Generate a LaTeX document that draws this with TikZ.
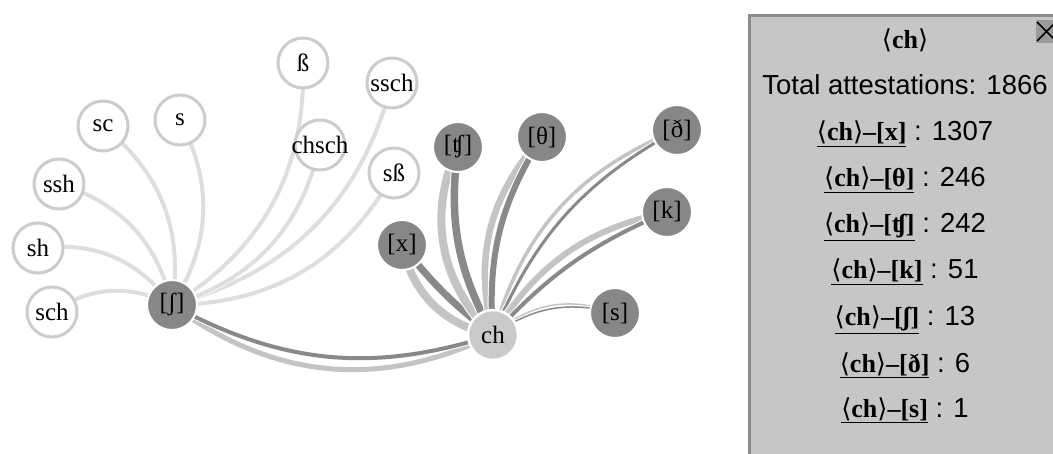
\documentclass[tikz,border=0pt]{standalone}
\usepackage{fontspec}
\setmainfont{Liberation Serif}
\setsansfont{Liberation Sans}
\newfontfamily\anglefont{DejaVu Sans}
\usetikzlibrary{backgrounds}
\definecolor{wborder}{HTML}{CCCCCC}
\definecolor{nodedark}{HTML}{878787}
\definecolor{chfill}{HTML}{C9C9C9}
\definecolor{faintline}{HTML}{DEDEDE}
\definecolor{liteline}{HTML}{C4C4C4}
\definecolor{darkline}{HTML}{898989}
\definecolor{panelfill}{HTML}{C6C6C6}
\definecolor{panelborder}{HTML}{8C8C8C}
\definecolor{closefill}{HTML}{9A9A9A}
\newcommand\ulpart[1]{\underline{#1}}
\newcommand\lang{{\anglefont\mdseries ⟨}}
\newcommand\rang{{\anglefont\mdseries ⟩}}
\newcommand\cnt[1]{{\sffamily\fontsize{27.5}{27.5}\selectfont\ : #1}}
\begin{document}
\begin{tikzpicture}[x=1pt,y=1pt,
  nodefont/.style={font=\fontsize{25}{25}\selectfont},
  wnode/.style={circle, minimum size=50pt, inner sep=0pt, fill=white, draw=wborder, line width=3pt, nodefont},
  dnode/.style={circle, minimum size=50pt, inner sep=0pt, fill=nodedark, draw=white, line width=2pt, nodefont},
  cnode/.style={circle, minimum size=50pt, inner sep=0pt, fill=chfill, draw=white, line width=2.5pt, nodefont},
  faintedge/.style={preaction={draw=white, line width=5.5pt}, draw=faintline, line width=4pt},
  liteedge/.style={preaction={draw=white, line width=#1pt+2pt}, draw=liteline, line width=#1pt},
  darkedge/.style={preaction={draw=white, line width=#1pt+2pt}, draw=darkline, line width=#1pt},
  ptext/.style={anchor=base, inner sep=0pt, font=\fontsize{26}{26}\selectfont},
  stext/.style={font=\sffamily\fontsize{27.5}{27.5}\selectfont},
]
\useasboundingbox (0,0) rectangle (1053,453);
\clip (0,0) rectangle (1053,453);

% grapheme nodes
\node[wnode] (sc) at (103,327) {sc};
\node[wnode] (s) at (180,333) {s};
\node[wnode] (ssh) at (59,269) {ssh};
\node[wnode] (sh) at (38,205) {sh};
\node[wnode] (sch) at (52,141) {sch};
\node[wnode] (eszett) at (303,390) {ß};
\node[wnode] (ssch) at (392,370) {\makebox[0pt]{ssch}};
\node[wnode] (chsch) at (320,308) {\makebox[0pt]{chsch}};
\node[wnode] (seszett) at (394,280) {sß};
\node[cnode] (ch) at (493,118) {ch};

% phoneme nodes
\node[dnode] (esh) at (172,148) {[ʃ]};
\node[dnode] (x) at (402,208) {[x]};
\node[dnode] (tesh) at (458,306) {[ʧ]};
\node[dnode] (theta) at (542,316) {[θ]};
\node[dnode] (eth) at (677,323) {[ð]};
\node[dnode] (k) at (667,241) {[k]};
\node[dnode] (sipa) at (615,140) {[s]};

\begin{scope}[on background layer]
  \draw[faintedge] (sc.center) to[bend left=30] (esh.center);
  \draw[faintedge] (s.center) to[bend left=30] (esh.center);
  \draw[faintedge] (ssh.center) to[bend left=30] (esh.center);
  \draw[faintedge] (sh.center) to[bend left=30] (esh.center);
  \draw[faintedge] (sch.center) to[bend left=30] (esh.center);
  \draw[faintedge] (eszett.center) to[bend left=30] (esh.center);
  \draw[faintedge] (ssch.center) to[bend left=30] (esh.center);
  \draw[faintedge] (chsch.center) to[bend left=30] (esh.center);
  \draw[faintedge] (seszett.center) to[bend left=30] (esh.center);

  \draw[liteedge=5] (ch.center) to[bend left=31] (esh.center);
  \draw[darkedge=4] (ch.center) to[bend left=23] (esh.center);

  \draw[liteedge=8] (ch.center) to[bend left=33] (x.center);
  \draw[darkedge=7] (ch.center) to[bend left=7] (x.center);

  \draw[liteedge=8] (ch.center) to[bend left=35] (tesh.center);
  \draw[darkedge=7.5] (ch.center) to[bend left=18] (tesh.center);

  \draw[liteedge=6.5] (ch.center) to[bend left=28] (theta.center);
  \draw[darkedge=6] (ch.center) to[bend left=18] (theta.center);

  \draw[liteedge=3.5] (ch.center) to[bend left=26] (eth.center);
  \draw[darkedge=3] (ch.center) to[bend left=19] (eth.center);

  \draw[liteedge=6] (ch.center) to[bend left=23] (k.center);
  \draw[darkedge=4] (ch.center) to[bend left=12] (k.center);

  \draw[liteedge=1.5] (ch.center) to[bend left=31] (sipa.center);
  \draw[darkedge=1.5] (ch.center) to[bend left=25] (sipa.center);
\end{scope}

% info panel
\filldraw[fill=panelfill, draw=panelborder, line width=3pt] (749.5,-10) rectangle (1070,437.5);
\fill[closefill] (1036,410) rectangle (1058,433);
\draw[line width=1.6pt] (1037,431) -- (1056,412) (1037,412) -- (1056,431);

\node[ptext] (t0) at (905,404) {\bfseries\lang ch\rang};
\node[ptext, stext] (t1) at (905,358) {Total attestations: 1866};
\node[ptext] (t2) at (905,312) {\ulpart{\bfseries\lang ch\rang–[x]}\cnt{1307}};
\node[ptext] (t3) at (905,266) {\ulpart{\bfseries\lang ch\rang–[θ]}\cnt{246}};
\node[ptext] (t4) at (905,220) {\ulpart{\bfseries\lang ch\rang–[ʧ]}\cnt{242}};
\node[ptext] (t5) at (905,174) {\ulpart{\bfseries\lang ch\rang–[k]}\cnt{51}};
\node[ptext] (t6) at (905,127) {\ulpart{\bfseries\lang ch\rang–[ʃ]}\cnt{13}};
\node[ptext] (t7) at (905,81) {\ulpart{\bfseries\lang ch\rang–[ð]}\cnt{6}};
\node[ptext] (t8) at (905,36) {\ulpart{\bfseries\lang ch\rang–[s]}\cnt{1}};
\end{tikzpicture}
\end{document}
